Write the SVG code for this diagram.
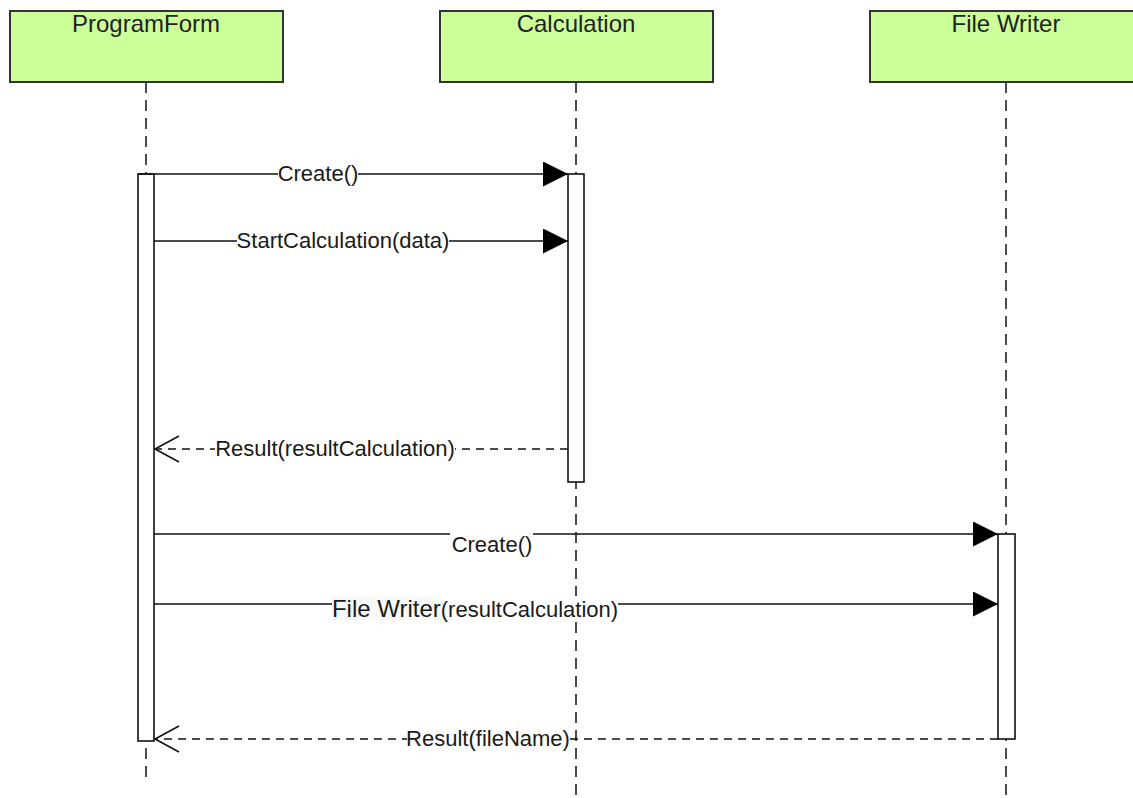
<svg xmlns="http://www.w3.org/2000/svg" width="1133" height="798" viewBox="0 0 1133 798">
<style>
.head{fill:#ccff99;stroke:#333;stroke-width:2}
.htxt{font-family:"Liberation Sans",Arial,sans-serif;font-size:24px;fill:#222;text-anchor:middle}
.life{stroke:#111;stroke-width:1.5;stroke-dasharray:11 7;fill:none}
.act{fill:#fff;stroke:#111;stroke-width:1.6}
.msg{stroke:#111;stroke-width:1.6;fill:none}
.ret{stroke:#111;stroke-width:1.6;fill:none;stroke-dasharray:8 6}
.lbl{font-family:"Liberation Sans",Arial,sans-serif;font-size:22px;fill:#1a1a1a;text-anchor:middle}
.bg{fill:#fff}
</style>
<defs>
<marker id="filled" markerUnits="userSpaceOnUse" markerWidth="26" markerHeight="26" refX="25" refY="12.5" orient="auto">
<path d="M0,0 L25,12.5 L0,25 Z" fill="#000"/>
</marker>
<marker id="open" markerUnits="userSpaceOnUse" markerWidth="28" markerHeight="30" refX="25" refY="14" orient="auto">
<path d="M1,1 L25,14 L1,27" fill="none" stroke="#111" stroke-width="1.6"/>
</marker>
</defs>

<g id="lifelines">
<line class="life" x1="146" y1="82" x2="146" y2="782"/>
<line class="life" x1="576" y1="82" x2="576" y2="798"/>
<line class="life" x1="1006" y1="82" x2="1006" y2="798"/>
</g>

<g id="node-programform">
<rect class="head" x="10" y="11" width="273" height="71"/>
<text class="htxt" x="146" y="32">ProgramForm</text>
<rect class="act" x="138" y="174" width="16" height="567"/>
</g>
<g id="node-calculation">
<rect class="head" x="440" y="11" width="273" height="71"/>
<text class="htxt" x="576" y="32">Calculation</text>
<rect class="act" x="568" y="174" width="16" height="308"/>
</g>
<g id="node-filewriter">
<rect class="head" x="870" y="11" width="273" height="71"/>
<text class="htxt" x="1006" y="32">File Writer</text>
<rect class="act" x="998" y="534" width="17" height="205"/>
</g>

<g id="connectors">
<line class="msg" x1="138" y1="174" x2="568" y2="174" marker-end="url(#filled)"/>
<rect class="bg" x="278" y="163" width="80" height="20"/>
<text class="lbl" x="318" y="181">Create()</text>

<line class="msg" x1="154" y1="241" x2="568" y2="241" marker-end="url(#filled)"/>
<rect class="bg" x="237" y="230" width="212" height="20"/>
<text class="lbl" x="343" y="248">StartCalculation(data)</text>

<line class="ret" x1="568" y1="449" x2="155" y2="449" marker-end="url(#open)"/>
<rect class="bg" x="215" y="438" width="240" height="20"/>
<text class="lbl" x="335" y="456">Result(resultCalculation)</text>

<line class="msg" x1="154" y1="534" x2="998" y2="534" marker-end="url(#filled)"/>
<rect class="bg" x="450" y="531" width="83" height="22"/>
<text class="lbl" x="492" y="552">Create()</text>

<line class="msg" x1="154" y1="604" x2="998" y2="604" marker-end="url(#filled)"/>
<rect fill="#f7f8f8" x="332" y="596" width="109" height="24"/>
<rect class="bg" x="441" y="596" width="177" height="24"/>
<text class="lbl" x="475" y="617"><tspan font-size="24px">File Writer</tspan>(resultCalculation)</text>

<line class="ret" x1="998" y1="739" x2="155" y2="739" marker-end="url(#open)"/>
<rect class="bg" x="407" y="729" width="162" height="20"/>
<text class="lbl" x="488" y="746">Result(fileName)</text>
</g>
</svg>
